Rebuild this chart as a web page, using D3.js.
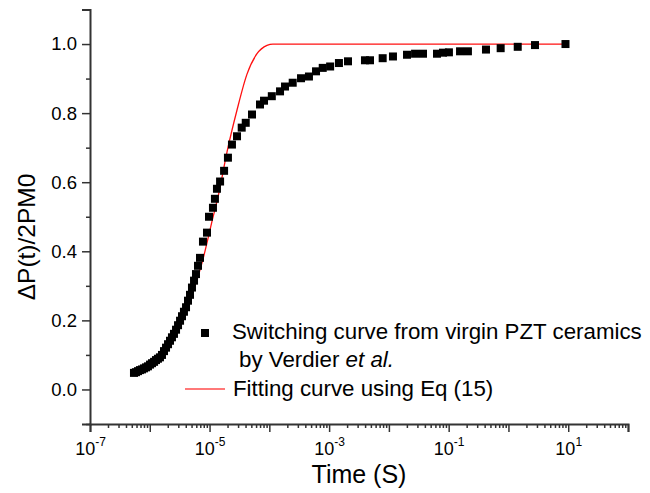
<!DOCTYPE html>
<html>
<head>
<meta charset="utf-8">
<script src="https://cdn.jsdelivr.net/npm/d3@7"></script>
<style>
  body { margin: 0; background: #fff; }
  svg { display: block; font-family: "Liberation Sans", Arial, Helvetica, sans-serif; }
</style>
</head>
<body>
<div id="chart"></div>
<script>
// switching curve, virgin PZT ceramics (Verdier et al.)
const obsTime = [5.44e-7, 5.87e-7, 6.35e-7, 6.85e-7, 7.41e-7, 8.0e-7, 8.65e-7, 9.33e-7,
  1.01e-6, 1.09e-6, 1.18e-6, 1.27e-6, 1.37e-6, 1.48e-6, 1.60e-6, 1.73e-6, 1.87e-6, 2.02e-6,
  2.18e-6, 2.35e-6, 2.54e-6, 2.75e-6, 2.97e-6, 3.21e-6, 3.46e-6, 3.73e-6, 4.04e-6, 4.36e-6,
  4.71e-6, 5.08e-6, 5.50e-6, 5.93e-6, 6.41e-6, 6.92e-6, 7.76e-6, 9.06e-6, 9.79e-6,
  1.14e-5, 1.23e-5, 1.33e-5, 1.50e-5, 1.75e-5, 2.03e-5, 2.37e-5, 2.88e-5, 3.45e-5, 4.03e-5,
  5.13e-5, 6.98e-5, 8.15e-5, 1.10e-4, 1.51e-4, 1.83e-4, 2.46e-4, 3.39e-4, 4.60e-4, 6.04e-4,
  7.82e-4, 1.04e-3, 1.46e-3, 2.07e-3, 3.98e-3, 4.83e-3, 7.87e-3, 1.17e-2, 2.01e-2, 2.74e-2,
  3.72e-2, 6.38e-2, 8.04e-2, 0.101, 0.155, 0.210, 0.421, 0.741, 1.43, 2.78, 9.0];
const obsFrac = [0.048, 0.050, 0.053, 0.056, 0.058, 0.061, 0.064, 0.067,
  0.072, 0.076, 0.080, 0.085, 0.089, 0.093, 0.100, 0.111, 0.121, 0.131,
  0.141, 0.151, 0.161, 0.173, 0.186, 0.199, 0.212, 0.225, 0.238, 0.257,
  0.274, 0.295, 0.315, 0.334, 0.358, 0.381, 0.428, 0.454, 0.500,
  0.526, 0.552, 0.581, 0.602, 0.633, 0.671, 0.709, 0.733, 0.758, 0.772,
  0.796, 0.825, 0.836, 0.849, 0.863, 0.877, 0.888, 0.901, 0.906, 0.921,
  0.931, 0.935, 0.945, 0.950, 0.953, 0.953, 0.959, 0.964, 0.969, 0.972,
  0.972, 0.972, 0.975, 0.976, 0.979, 0.979, 0.984, 0.988, 0.992, 0.997, 1.0];

// fitting curve, Eq (15)
const fitTime = [6.04e-7, 1.13e-6, 1.66e-6, 2.44e-6, 3.60e-6, 5.28e-6, 7.76e-6, 1.14e-5,
  1.38e-5, 1.96e-5, 2.88e-5, 4.23e-5, 6.22e-5, 9.14e-5, 1.15e-4, 1e-3, 1e-1, 9.0];
const fitFrac = [0.039, 0.070, 0.100, 0.145, 0.204, 0.281, 0.377, 0.498,
  0.556, 0.688, 0.809, 0.913, 0.972, 0.996, 1.0, 1.0, 1.0, 1.0];

const yMajor = [0.0, 0.2, 0.4, 0.6, 0.8, 1.0];
const yMinor = [-0.1, 0.1, 0.3, 0.5, 0.7, 0.9, 1.1];
const xLabelExp = [-7, -5, -3, -1, 1];

const legendObs = ["Switching curve from virgin PZT ceramics", "by Verdier "];
const legendFit = "Fitting curve using Eq (15)";

const W = 650, H = 493;
const margin = {top: 9.5, right: 22, bottom: 69, left: 90};
const width = W - margin.left - margin.right;
const height = H - margin.top - margin.bottom;

const svg = d3.select("#chart").append("svg")
  .attr("width", W).attr("height", H);
const g = svg.append("g")
  .attr("transform", `translate(${margin.left},${margin.top})`);

const x = d3.scaleLog().domain([1e-7, 1e2]).range([0, width]);
const y = d3.scaleLinear().domain([-0.1, 1.1]).range([height, 0]);

const axisColor = "#333";

// x axis: minor ticks, then majors at each decade
const allX = x.ticks();
const majorX = allX.filter(v => Math.abs(Math.log10(v) - Math.round(Math.log10(v))) < 1e-9);
const minorX = allX.filter(v => !majorX.includes(v));

const gxMinor = g.append("g")
  .attr("transform", `translate(0,${height})`)
  .call(d3.axisBottom(x).tickValues(minorX).tickSize(4).tickFormat(""));
const gx = g.append("g")
  .attr("transform", `translate(0,${height})`)
  .call(d3.axisBottom(x).tickValues(majorX).tickSize(8).tickFormat(""));

gx.selectAll(".tick")
  .filter(d => xLabelExp.includes(Math.round(Math.log10(d))))
  .append("text")
  .attr("y", 31)
  .attr("fill", "#000")
  .attr("text-anchor", "middle")
  .style("font-size", "18px")
  .each(function(d) {
    const t = d3.select(this);
    t.append("tspan").text("10");
    t.append("tspan").attr("dy", -9).style("font-size", "12px")
      .text(String(Math.round(Math.log10(d))));
  });

// y axis
const gyMinor = g.append("g")
  .call(d3.axisLeft(y).tickValues(yMinor).tickSize(4).tickFormat(""));
const gy = g.append("g")
  .call(d3.axisLeft(y).tickValues(yMajor).tickSize(8).tickPadding(5).tickFormat(d3.format(".1f")));
gy.selectAll("text").style("font-size", "18.5px").attr("fill", "#000");

g.selectAll(".domain").attr("stroke", axisColor).attr("stroke-width", 2);
g.selectAll(".tick line").attr("stroke", axisColor).attr("stroke-width", 1.5);
gxMinor.select(".domain").remove();
gyMinor.select(".domain").remove();

// axis titles
svg.append("text")
  .attr("x", margin.left + width / 2).attr("y", 483)
  .attr("text-anchor", "middle")
  .style("font-size", "25px")
  .text("Time (S)");

svg.append("text")
  .attr("transform", "translate(35,237) rotate(-90)")
  .attr("text-anchor", "middle")
  .style("font-size", "24.5px")
  .text("\u0394P(t)/2PM0");

// fit line
const line = d3.line()
  .x(d => x(d[0])).y(d => y(d[1]))
  .curve(d3.curveMonotoneX);
g.append("path")
  .datum(fitTime.map((t, i) => [t, fitFrac[i]]))
  .attr("fill", "none")
  .attr("stroke", "#ff1010")
  .attr("stroke-width", 1.3)
  .attr("d", line);

// data squares
const sq = 8;
g.append("g").selectAll("rect")
  .data(obsTime.map((t, i) => [t, obsFrac[i]]))
  .join("rect")
  .attr("x", d => x(d[0]) - sq / 2)
  .attr("y", d => y(d[1]) - sq / 2)
  .attr("width", sq).attr("height", sq)
  .attr("fill", "#000");

// legend
const leg = svg.append("g").style("font-size", "22.3px");
leg.append("rect").attr("x", 201).attr("y", 329).attr("width", sq).attr("height", sq).attr("fill", "#000");
leg.append("text").attr("x", 232).attr("y", 339).text(legendObs[0]);
const l2 = leg.append("text").attr("x", 239).attr("y", 366.5);
l2.append("tspan").text(legendObs[1]);
l2.append("tspan").style("font-style", "italic").text("et al.");
leg.append("line").attr("x1", 185).attr("x2", 225).attr("y1", 389).attr("y2", 389)
  .attr("stroke", "#ff4d4d").attr("stroke-width", 1.5);
leg.append("text").attr("x", 233).attr("y", 395.5).text(legendFit);
</script>
</body>
</html>
